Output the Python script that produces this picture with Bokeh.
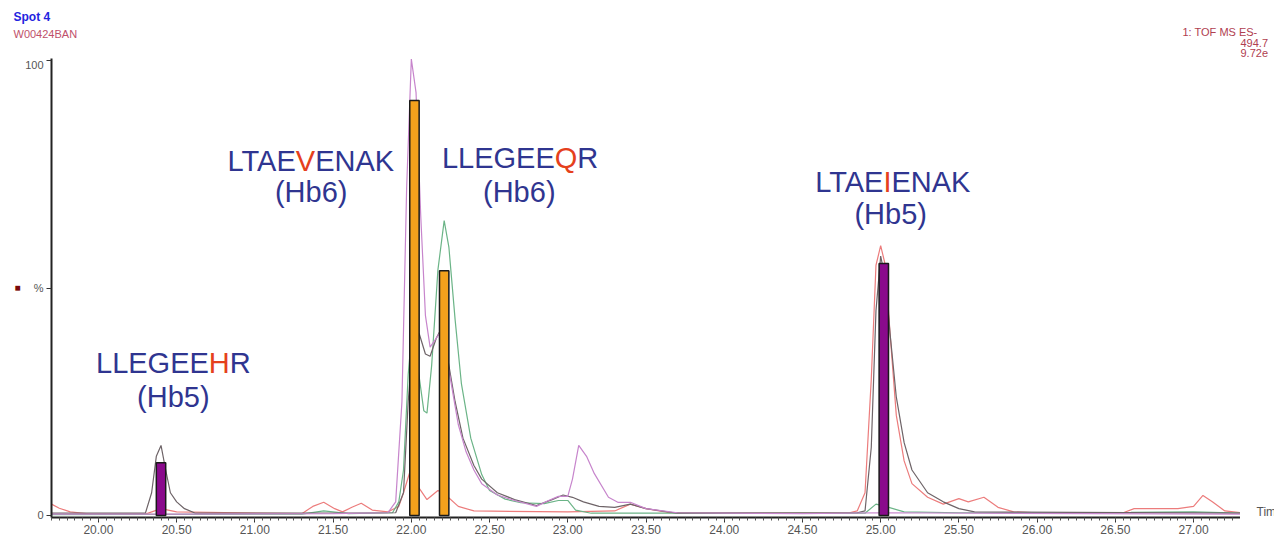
from bokeh.plotting import figure
from bokeh.layouts import column, row
from bokeh.models import Range1d, FixedTicker, SingleIntervalTicker, NumeralTickFormatter, ColumnDataSource
from bokeh.core.properties import value
from bokeh.embed import file_html
from bokeh.resources import INLINE

# ---------------- data ----------------
violet_t = [19.70, 20.50, 21.50, 21.85, 21.90, 21.94, 21.97, 22.00, 22.03, 22.06, 22.09, 22.12, 22.16, 22.19,
            22.22, 22.26, 22.30, 22.35, 22.40, 22.45, 22.55, 22.66, 22.80, 22.87, 22.94, 23.00, 23.03, 23.07,
            23.12, 23.17, 23.26, 23.32, 23.40, 23.50, 23.70, 24.50, 25.00, 27.30]
violet_v = [0.3, 0.3, 0.4, 0.6, 3, 25, 72, 100.3, 93, 66, 44, 37, 39, 40.5,
            36, 28, 20, 14, 10, 7, 4.5, 3.3, 2.0, 3.2, 4.2, 4.2, 8, 15.4,
            13, 9.2, 4, 2.9, 2.9, 1.5, 0.6, 0.4, 0.6, 0.3]

green_t = [19.70, 21.30, 21.44, 21.60, 21.88, 21.92, 21.95, 21.98, 22.00, 22.04, 22.08, 22.10, 22.13, 22.17,
           22.21, 22.24, 22.28, 22.32, 22.38, 22.45, 22.50, 22.60, 22.70, 22.85, 22.94, 23.00, 23.05, 23.15,
           24.90, 24.97, 25.03, 25.15, 25.50, 26.60, 27.00, 27.30]
green_v = [0.2, 0.3, 1.0, 0.4, 0.6, 3, 10, 31, 39, 33, 23, 22.5, 33, 54,
           64.8, 59, 43, 29, 17, 9, 5.5, 3.6, 2.8, 2.6, 3.3, 3.3, 1.2, 0.5,
           0.5, 2.5, 2, 0.8, 0.6, 0.7, 0.8, 0.5]

grey_t = [19.70, 20.30, 20.34, 20.37, 20.40, 20.43, 20.46, 20.50, 20.55, 20.62, 21.90, 21.95, 21.98, 22.01,
          22.05, 22.09, 22.12, 22.16, 22.19, 22.23, 22.28, 22.33, 22.40, 22.45, 22.55, 22.66, 22.80, 22.90,
          22.97, 23.03, 23.10, 23.20, 23.30, 23.40, 23.50, 23.70, 24.85, 24.90, 24.94, 24.97, 25.00, 25.03,
          25.06, 25.10, 25.15, 25.20, 25.30, 25.40, 25.50, 25.60, 27.30]
grey_v = [0.5, 0.5, 5, 13, 15.4, 10, 5, 3, 1.5, 0.5, 0.6, 5, 25, 38,
          40, 35.5, 35, 39, 41, 35, 25, 17, 11, 8, 5, 3.5, 2.2, 3.5,
          4.5, 4, 3, 2, 1.8, 2.5, 1.5, 0.5, 0.6, 1, 15, 45, 57, 52,
          40, 26, 16, 10, 5, 3, 1.5, 0.8, 0.5]

red_t = [19.70, 19.75, 19.82, 19.95, 20.30, 20.40, 20.50, 21.30, 21.37, 21.44, 21.51, 21.56, 21.62, 21.68,
         21.75, 21.85, 21.92, 21.95, 21.99, 22.04, 22.10, 22.17, 22.22, 22.30, 22.40, 23.00, 23.30, 23.40,
         23.50, 23.65, 24.80, 24.85, 24.90, 24.94, 24.97, 25.00, 25.03, 25.06, 25.10, 25.15, 25.20, 25.30,
         25.40, 25.50, 25.56, 25.66, 25.75, 25.85, 26.00, 26.55, 26.62, 26.90, 27.00, 27.06, 27.12, 27.20, 27.30]
red_v = [2.5, 1.6, 0.8, 0.3, 0.3, 1.5, 0.8, 0.4, 2, 2.9, 1.5, 0.8, 1.8, 2.7,
         1.2, 0.8, 2, 5, 9.5, 6.5, 3.5, 5.5, 4.5, 2, 1, 0.8, 1, 2.5,
         1.5, 0.6, 0.6, 1, 5, 30, 55, 59.3, 55, 40, 22, 12, 7, 4,
         2.5, 3.7, 3.0, 4.0, 1.8, 0.8, 0.6, 0.6, 1.5, 1.5, 2, 4.4, 3, 1, 0.6]

bar_t = [20.40, 22.02, 22.21, 25.02]
bar_h = [11.6, 91.2, 53.8, 55.4]
bar_kind = ["Hb5", "Hb6", "Hb6", "Hb5"]

pep_prefix = ["LTAE", "LLEGEE", "LTAE", "LLEGEE"]
pep_mut = ["V", "Q", "I", "H"]
pep_suffix = ["ENAK", "R", "ENAK", "R"]
pep_hb = ["(Hb6)", "(Hb6)", "(Hb5)", "(Hb5)"]

x_ticks_fmt = "0.00"
y_tick_labels = {0: "0", 50: "%", 100: "100"}

header_left = ["Spot 4", "W00424BAN"]
header_right = ["1: TOF MS ES-", "494.7", "9.72e"]

# ---------------- layout geometry (canvas pixels) ----------------
FONT = "Liberation Sans"
W = 1274
TOP = 58            # header strip height (frame top)
MAIN_H = 481        # main plot height
LS, RS = 22, 34     # left / right strips
FL, FR, FB = 50, 1240, 517
FRAME_H = FB - TOP  # strips' frames get aligned with the main frame

def strip(w, h, yspan):
    f = figure(width=w, height=h, output_backend="svg", toolbar_location=None,
               x_range=Range1d(0, w), y_range=Range1d(yspan, 0),
               x_axis_location=None, y_axis_location=None, min_border=0)
    f.outline_line_color = None
    f.xgrid.visible = False
    f.ygrid.visible = False
    return f

# header strip
hdr = strip(W, TOP, TOP)
hdr.text(x=[13], y=[9], text=[header_left[0]], text_font=value(FONT), text_font_size="12px",
         text_font_style="bold", text_color="#2323e0", text_baseline="top")
hdr.text(x=[13], y=[27], text=[header_left[1]], text_font=value(FONT), text_font_size="11px",
         text_color="#c0506a", text_baseline="top")
hdr.text(x=[1182, 1240, 1240], y=[31, 42, 52], text=header_right, text_font=value(FONT),
         text_font_size="11px", text_color="#b04050", text_baseline="middle")

# left strip with the small trace marker
lst = strip(LS, MAIN_H, FRAME_H)
lst.text(x=[14], y=[287 - TOP], text=["■"], text_font=value(FONT), text_font_size="10px",
         text_color="#7a0a0a", text_baseline="middle")

# right strip with axis title
rst = strip(RS, MAIN_H, FRAME_H)
rst.text(x=[1256 - FR], y=[FRAME_H - 6], text=["Time"], text_font=value(FONT), text_font_size="12px",
         text_color="#555555", text_baseline="middle")

# main plot
p = figure(width=W - LS - RS, height=MAIN_H, output_backend="svg", toolbar_location=None,
           x_range=Range1d(19.70, 27.30), y_range=Range1d(-0.44, 100.44),
           min_border_left=FL - LS, min_border_right=0, min_border_top=0,
           min_border_bottom=TOP + MAIN_H - FB)
p.outline_line_color = None
p.xgrid.visible = False
p.ygrid.visible = False

p.xaxis.ticker = SingleIntervalTicker(interval=0.5, num_minor_ticks=10)
p.xaxis.formatter = NumeralTickFormatter(format=x_ticks_fmt)
p.xaxis.axis_line_width = 2
p.xaxis.axis_line_color = "#222222"
p.xaxis.major_tick_out = 5
p.xaxis.major_tick_in = 0
p.xaxis.minor_tick_out = 3
p.xaxis.minor_tick_in = 0
p.xaxis.major_tick_line_color = "#333333"
p.xaxis.minor_tick_line_color = "#555555"
p.xaxis.major_label_text_font = FONT
p.xaxis.major_label_text_font_size = "12px"
p.xaxis.major_label_text_color = "#555555"
p.xaxis.major_label_standoff = 2

p.yaxis.ticker = FixedTicker(ticks=list(y_tick_labels.keys()), minor_ticks=[])
p.yaxis.major_label_overrides = y_tick_labels
p.yaxis.axis_line_width = 2
p.yaxis.axis_line_color = "#222222"
p.yaxis.major_tick_out = 5
p.yaxis.major_tick_in = 0
p.yaxis.major_tick_line_color = "#333333"
p.yaxis.major_label_text_font = FONT
p.yaxis.major_label_text_font_size = "11px"
p.yaxis.major_label_text_color = "#555555"
p.yaxis.major_label_standoff = 3

# traces
p.line(red_t, red_v, line_color="#ec7c7c", line_width=1.2)
p.line(green_t, green_v, line_color="#6bb487", line_width=1.2)
p.line(grey_t, grey_v, line_color="#6e6468", line_width=1.2)
p.line(violet_t, violet_v, line_color="#c785cc", line_width=1.2)

# bars
bar_colors = ["#8a0a8c" if k == "Hb5" else "#f4a11c" for k in bar_kind]
p.vbar(x=bar_t, top=bar_h, bottom=0, width=0.06, fill_color=bar_colors,
       line_color="#1a1a1a", line_width=1.5)

# peptide annotations (mutated residue in red)
ADV = {'L': 556, 'T': 611, 'A': 667, 'E': 667, 'V': 667, 'N': 722, 'K': 667, 'G': 778,
       'Q': 778, 'R': 722, 'H': 722, 'I': 278}
SIZE = 29
def wid(s):
    return sum(ADV[c] for c in s) * SIZE / 1000.0

pep_x = [21.344, 22.695, 25.064, 20.479]
pep_y = [78.0, 78.5, 73.2, 33.6]
hb_y = [71.0, 71.2, 66.2, 26.0]
hb_x = [21.36, 22.69, 25.064, 20.479]

NAVY = "#2f3590"
RED = "#e5401c"
tx, ty, tt, toff, talign, tcol = [], [], [], [], [], []
for i in range(4):
    total = wid(pep_prefix[i]) + wid(pep_mut[i]) + wid(pep_suffix[i])
    seam1 = -total / 2 + wid(pep_prefix[i])
    seam2 = seam1 + wid(pep_mut[i])
    for txt, off, al, col in [(pep_prefix[i], seam1, "right", NAVY),
                              (pep_mut[i], seam1, "left", RED),
                              (pep_suffix[i], seam2, "left", NAVY)]:
        tx.append(pep_x[i]); ty.append(pep_y[i]); tt.append(txt)
        toff.append(off); talign.append(al); tcol.append(col)
src = ColumnDataSource(dict(x=tx, y=ty, text=tt, xo=toff, align=talign, color=tcol))
p.text(x="x", y="y", text="text", x_offset="xo", text_align="align", text_color="color",
       source=src, text_font=value(FONT), text_font_size="29px", text_baseline="middle")
p.text(x=hb_x, y=hb_y, text=pep_hb, text_align="center", text_baseline="middle",
       text_color=NAVY, text_font=value(FONT), text_font_size="29px")

layout = column(hdr, row(lst, p, rst, spacing=0), spacing=0)
open("out.html", "w").write(file_html(layout, INLINE))
